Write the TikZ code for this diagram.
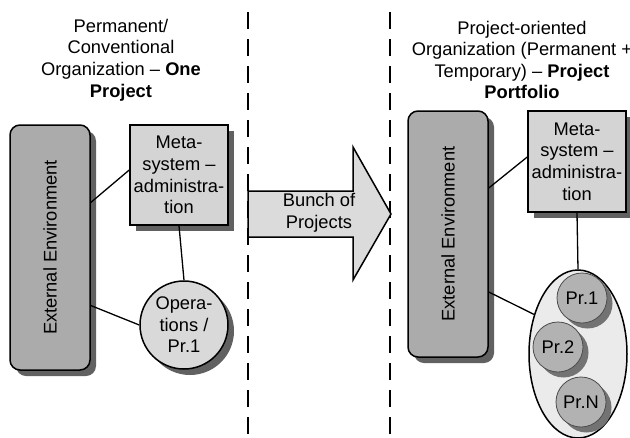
\documentclass[tikz,border=0pt]{standalone}
\usepackage{fontspec}
\setmainfont{Liberation Sans}
\usetikzlibrary{shapes.geometric,shadows}

\begin{document}
\begin{tikzpicture}[x=1pt, y=-1pt,
        every node/.style={font=\fontsize{18.3}{21.6}\selectfont, align=center},
        ombra/.style={drop shadow={shadow xshift=6pt, shadow yshift=-6pt, fill=black!62, opacity=1}},
        ambiente/.style={rectangle, rounded corners=10pt, draw, line width=1.5pt, fill=black!33,
            minimum width=80pt, minimum height=245pt, inner sep=0pt, ombra},
        meta/.style={rectangle, draw, line width=1.5pt, fill=black!17,
            minimum width=98pt, minimum height=100pt, inner sep=0pt, ombra},
        progetto/.style={circle, draw=black!70, line width=0.8pt, fill=black!30, minimum size=50pt, inner sep=0pt,
            drop shadow={shadow xshift=5.5pt, shadow yshift=-5.5pt, fill=black!55, opacity=1}},
        linea/.style={line width=1.3pt}]
        \fill[white] (0,0) rectangle (630,437);
        \useasboundingbox (0,0) rectangle (630,437);

        % Separatori
        \draw[line width=2.2pt, dash pattern=on 17pt off 10pt] (248,12) -- (248,437);
        \draw[line width=2.2pt, dash pattern=on 17pt off 10pt] (390,12) -- (390,437);

        % Titoli
        \node (T1) at (121,60) {Permanent/\\Conventional\\Organization -- \textbf{One}\\\textbf{Project}};
        \node (T2) at (522,60) {Project-oriented\\Organization (Permanent +\\Temporary) -- \textbf{Project}\\\textbf{Portfolio}};

        % Organizzazione permanente
        \node (A) at (50,247.5) [ambiente] {\rotatebox{90}{External Environment}};
        \node (B) at (179,175) [meta] {Meta-\\system --\\administra-\\tion};
        \node (C) at (184,325) [circle, draw, line width=1.5pt, fill=black!15, minimum size=88pt, inner sep=0pt, ombra]
            {Opera-\\tions /\\Pr.1};

        % Freccia
        \filldraw[line width=1.5pt, fill=black!14] (248,191) -- (353,191) -- (353,147) -- (391,214)
            -- (353,280) -- (353,237) -- (248,237) -- cycle;
        \node (X) at (319,213) {Bunch of\\Projects};

        % Organizzazione orientata ai progetti
        \node (D) at (448,234) [ambiente, minimum height=246pt] {\rotatebox{90}{External Environment}};
        \node (F) at (577,161.5) [meta, minimum height=101pt] {Meta-\\system --\\administra-\\tion};
        \node (E) at (578,354) [ellipse, draw, line width=1.5pt, fill=black!8, minimum width=98pt, minimum height=168pt] {};
        \node (P1) at (582,298) [progetto] {Pr.1};
        \node (P2) at (558,347) [progetto] {Pr.2};
        \node (PN) at (581,402) [progetto] {Pr.N};

        % Collegamenti
        \draw[linea] ([yshift=45pt]A.east) -- ([yshift=5pt]B.west);
        \draw[linea] ([yshift=-58pt]A.east) -- (C.west);
        \draw[linea] (B.south) -- (C.north);
        \draw[linea] ([yshift=46pt]D.east) -- ([yshift=4.5pt]F.west);
        \draw[linea] ([yshift=-58pt]D.east) -- (E.138);
        \draw[linea] (F.south) -- (E.north);
    \end{tikzpicture}
\end{document}
